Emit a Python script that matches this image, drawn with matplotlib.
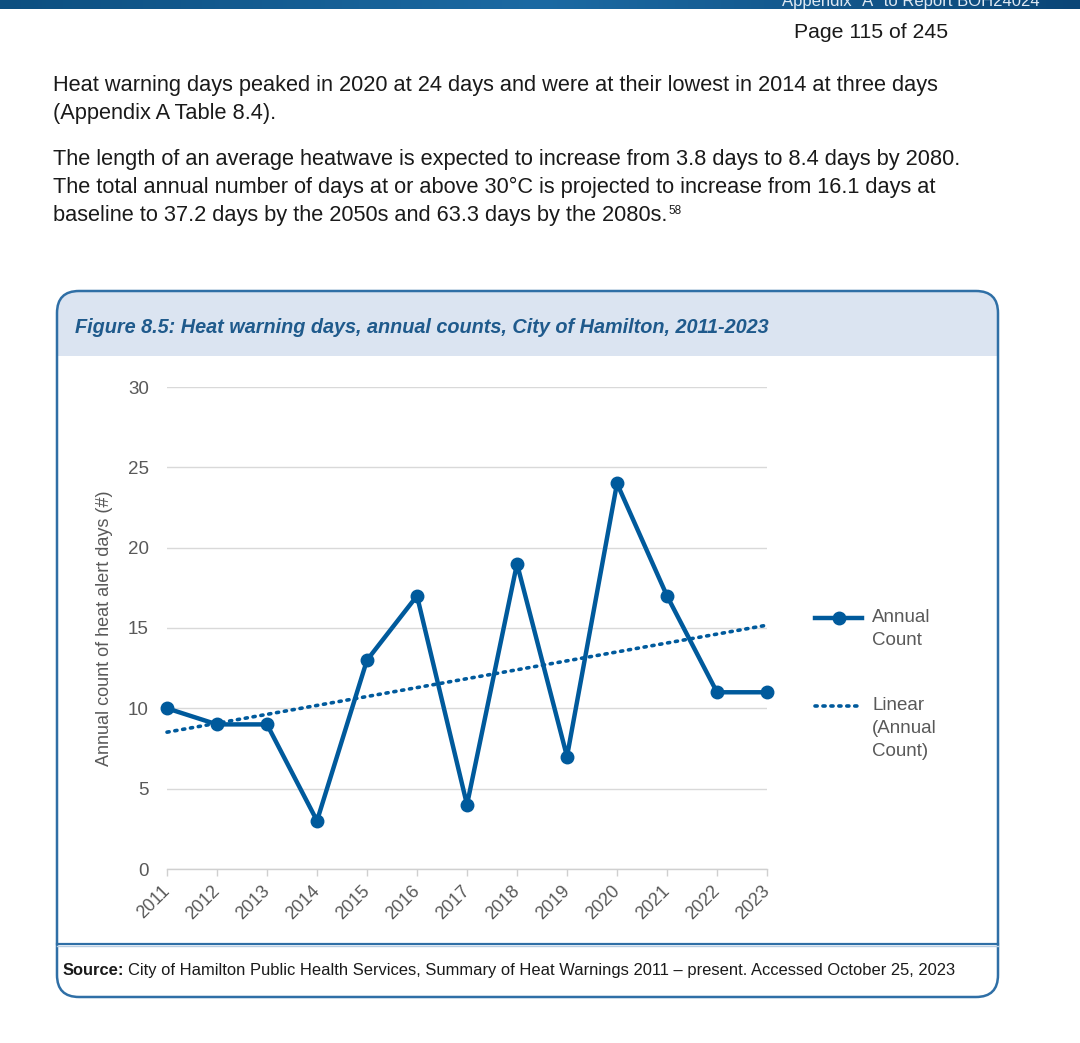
import numpy as np
import matplotlib
matplotlib.use('Agg')
import matplotlib.pyplot as plt
from matplotlib.patches import FancyBboxPatch, Rectangle
from matplotlib.lines import Line2D

# данные графика
years = [2011, 2012, 2013, 2014, 2015, 2016, 2017, 2018, 2019, 2020, 2021, 2022, 2023]
counts = [10, 9, 9, 3, 13, 17, 4, 19, 7, 24, 17, 11, 11]
y_ticks = [0, 5, 10, 15, 20, 25, 30]
legend_labels = ['Annual\nCount', 'Linear\n(Annual\nCount)']

body_lines = [
    'Heat warning days peaked in 2020 at 24 days and were at their lowest in 2014 at three days',
    '(Appendix A Table 8.4).',
    'The length of an average heatwave is expected to increase from 3.8 days to 8.4 days by 2080.',
    'The total annual number of days at or above 30°C is projected to increase from 16.1 days at',
    'baseline to 37.2 days by the 2050s and 63.3 days by the 2080s.',
]
body_baselines = [91, 119, 165, 193, 221]
title = 'Figure 8.5: Heat warning days, annual counts, City of Hamilton, 2011-2023'
source = 'City of Hamilton Public Health Services, Summary of Heat Warnings 2011 – present. Accessed October 25, 2023'

W, H = 1080, 1043
BLUE = '#005a9c'
FRAME = '#2f6fa6'
BAND = '#dbe4f1'
GREY = '#595959'
TEXT = '#1a1a1a'
SANS = ['Liberation Sans', 'DejaVu Sans']

fig = plt.figure(figsize=(W / 100, H / 100), dpi=100)
renderer = fig.canvas.get_renderer()

# слой страницы в пикселях
page = fig.add_axes([0, 0, 1, 1])
page.set_xlim(0, W)
page.set_ylim(H, 0)
page.axis('off')


def right_edge(txt):
    """Правый край текста в пикселях страницы"""
    bb = txt.get_window_extent(renderer=renderer)
    return page.transData.inverted().transform((bb.x1, bb.y0))[0]


# верхняя полоса
grad = np.linspace(0, 1, 256).reshape(1, -1)
page.imshow(grad, extent=[0, W, 9, 0], aspect='auto',
            cmap=matplotlib.colors.LinearSegmentedColormap.from_list('hdr', ['#0d4f80', '#1c6aa3', '#0b4677']),
            zorder=0)
page.text(1040, 6, 'Appendix "A" to Report BOH24024', ha='right', va='baseline',
          fontsize=12, color='#dfe9f3', family=SANS)
page.text(948, 38, 'Page 115 of 245', ha='right', va='baseline', fontsize=15.3,
          color=TEXT, family=SANS)

# текст абзацев
for line, yb in zip(body_lines, body_baselines):
    last = page.text(53, yb, line, ha='left', va='baseline', fontsize=15.7, color=TEXT, family=SANS)
page.text(right_edge(last) + 1, body_baselines[-1] - 7, '58', ha='left', va='baseline',
          fontsize=8.5, color=TEXT, family=SANS)

# рамка рисунка
box_kw = dict(boxstyle='round,pad=0,rounding_size=22')
page.add_patch(FancyBboxPatch((57, 291), 941, 706, fc='white', ec='none', zorder=1, **box_kw))
band = FancyBboxPatch((57, 291), 941, 706, fc=BAND, ec='none', zorder=2, **box_kw)
page.add_patch(band)
band.set_clip_path(Rectangle((0, 0), W, 356, transform=page.transData))
page.add_patch(FancyBboxPatch((57, 291), 941, 706, fc='none', ec=FRAME, lw=1.8, zorder=4, **box_kw))
page.plot([57, 998], [944, 944], color=FRAME, lw=1.6, zorder=4)
page.plot([57, 998], [946, 946], color='#b8cde2', lw=1, zorder=4)

page.text(75, 333, title, ha='left', va='baseline', fontsize=14.3, fontweight='bold',
          fontstyle='italic', color='#1f5a8c', family=SANS, zorder=5)
src_b = page.text(63, 975, 'Source:', ha='left', va='baseline', fontsize=11.9, fontweight='bold',
                  color=TEXT, family=SANS, zorder=5)
page.text(right_edge(src_b) + 4, 975, source, ha='left', va='baseline', fontsize=11.9,
          color=TEXT, family=SANS, zorder=5)

# область графика
left, right, top, bottom = 167, 767, 387, 869
ax = fig.add_axes([left / W, 1 - bottom / H, (right - left) / W, (bottom - top) / H])
ax.patch.set_alpha(0)
ax.set_xlim(years[0], years[-1])
ax.set_ylim(0, 30)
for s in ['top', 'right', 'left']:
    ax.spines[s].set_visible(False)
ax.spines['bottom'].set_color('#d0d0d0')
ax.spines['bottom'].set_linewidth(1)
ax.set_yticks(y_ticks)
ax.grid(axis='y', color='#d9d9d9', lw=1)
ax.set_axisbelow(True)
ax.tick_params(axis='y', length=0, pad=13, labelsize=13.5, labelcolor=GREY)
ax.set_xticks(years)
ax.set_xticklabels([str(y) for y in years], rotation=45, ha='right', va='center',
                   rotation_mode='anchor')
ax.tick_params(axis='x', length=5, width=1, color='#d0d0d0', labelsize=13, labelcolor=GREY, pad=9)
for lab in ax.get_xticklabels() + ax.get_yticklabels():
    lab.set_family(SANS)

ax.plot(years, counts, color=BLUE, lw=3.2, marker='o', ms=9, clip_on=False, zorder=3)
coef = np.polyfit(years, counts, 1)
trend = np.polyval(coef, years)
ax.plot(years, trend, color=BLUE, lw=2.6, ls=(0, (0.6, 1.6)), dash_capstyle='round',
        clip_on=False, zorder=2)
ax.set_ylabel('Annual count of heat alert days (#)', fontsize=13, color=GREY, family=SANS,
              labelpad=11)

# легенда
page.add_line(Line2D([815, 862], [618, 618], color=BLUE, lw=3.2, zorder=5))
page.add_line(Line2D([839], [618], color=BLUE, marker='o', ms=9, zorder=5))
page.add_line(Line2D([815, 862], [706, 706], color=BLUE, lw=2.6, ls=(0, (0.6, 1.6)),
                     dash_capstyle='round', zorder=5))
page.text(872, 609, legend_labels[0], ha='left', va='top', fontsize=13.5, color=GREY,
          family=SANS, linespacing=1.45, zorder=5)
page.text(872, 697, legend_labels[1], ha='left', va='top', fontsize=13.5, color=GREY,
          family=SANS, linespacing=1.45, zorder=5)

fig.savefig('out.png', dpi=100)
